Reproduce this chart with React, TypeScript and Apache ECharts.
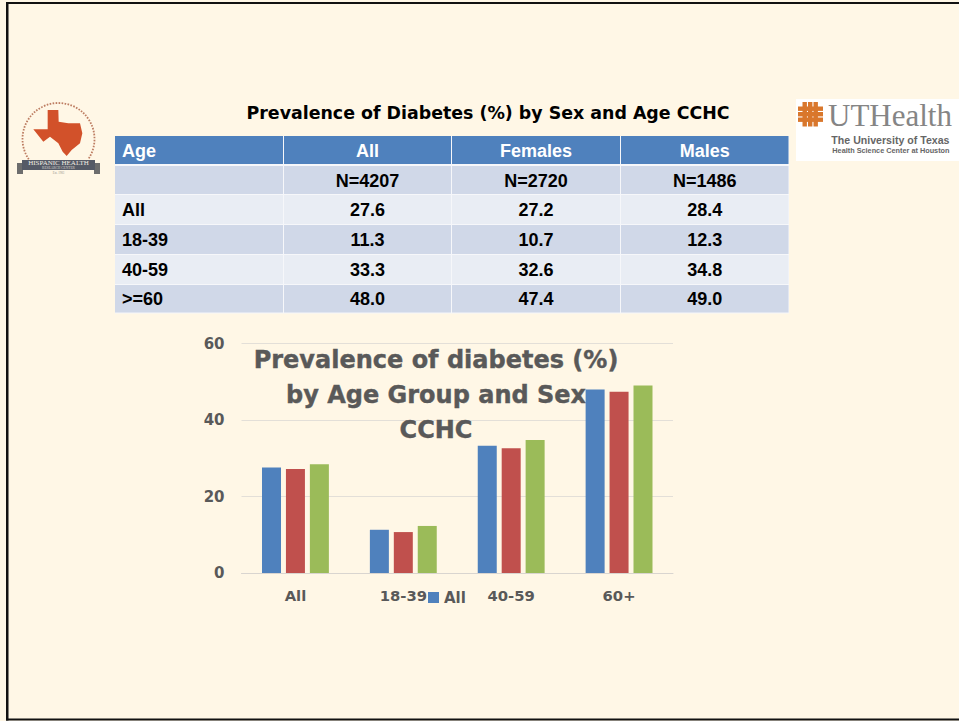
import React, { useEffect, useRef } from "react";
import * as echarts from "echarts";

const categories = ["All", "18-39", "40-59", "60+"];
const allValues = [27.6, 11.3, 33.3, 48.0];
const femaleValues = [27.2, 10.7, 32.6, 47.4];
const maleValues = [28.4, 12.3, 34.8, 49.0];
const tableHeader = ["Age", "All", "Females", "Males"];
const tableRows = [
  ["", "N=4207", "N=2720", "N=1486"],
  ["All", "27.6", "27.2", "28.4"],
  ["18-39", "11.3", "10.7", "12.3"],
  ["40-59", "33.3", "32.6", "34.8"],
  [">=60", "48.0", "47.4", "49.0"],
];
const colX = [115, 284, 452, 621, 789.5];
const rowY = [136, 166, 195, 225, 255, 285, 313.5];
const BG = "#fff7e6";
const SANS = "Liberation Sans";
const WIDE = "DejaVu Sans";

const texas: number[][] = [
  [143, 60], [175, 60], [176, 95], [205, 100], [240, 100], [247, 130], [240, 160], [215, 180],
  [200, 198], [188, 185], [175, 160], [150, 140], [130, 155], [100, 118], [143, 118],
].map(([x, y]) => [x / 3, 90 + y / 3]);

function tableGraphics() {
  const out: any[] = [];
  out.push({ type: "rect", shape: { x: colX[0], y: rowY[0], width: 674, height: 177.5 }, style: { fill: "#f6f7fa" }, silent: true });
  const rows = [tableHeader, ...tableRows];
  rows.forEach((row, r) => {
    row.forEach((cell, c) => {
      const x0 = colX[c];
      const x1 = colX[c + 1] - 1;
      const y0 = rowY[r];
      const y1 = rowY[r + 1] - (r === 0 ? 2 : 1);
      const fill = r === 0 ? "#4f81bd" : r % 2 === 1 ? "#d0d8e8" : "#e9edf4";
      out.push({ type: "rect", shape: { x: x0, y: y0, width: x1 - x0, height: y1 - y0 }, style: { fill }, silent: true });
      if (cell) {
        out.push({
          type: "text",
          x: c === 0 ? x0 + 7 : (x0 + x1) / 2,
          y: (y0 + y1) / 2 + 0.5,
          style: {
            text: cell,
            fill: r === 0 ? "#ffffff" : "#000000",
            font: `bold 18px "${SANS}"`,
            textAlign: c === 0 ? "left" : "center",
            textVerticalAlign: "middle",
          },
          silent: true,
        });
      }
    });
  });
  return out;
}

function logoGraphics() {
  const out: any[] = [];
  const t = (text: string, x: number, y: number, font: string, fill: string, textAlign = "center") => ({
    type: "text", x, y, silent: true, style: { text, font, fill, textAlign, textVerticalAlign: "middle" },
  });
  out.push({
    type: "arc",
    shape: { cx: 58.5, cy: 139, r: 36, startAngle: Math.PI - 0.6, endAngle: Math.PI * 2 + 0.6, clockwise: true },
    style: { stroke: "#bd7d62", lineWidth: 1.8, fill: "none", lineDash: [1.6, 1.4] },
    silent: true,
  });
  out.push({ type: "polygon", shape: { points: texas }, style: { fill: "#d2512a" }, silent: true });
  out.push({ type: "rect", shape: { x: 17, y: 163, width: 6, height: 11 }, style: { fill: "#6d6d6d" }, silent: true });
  out.push({ type: "rect", shape: { x: 94, y: 163, width: 6, height: 11 }, style: { fill: "#6d6d6d" }, silent: true });
  out.push({ type: "rect", shape: { x: 22, y: 160, width: 73, height: 10 }, style: { fill: "#555a66" }, silent: true });
  out.push(t("HISPANIC HEALTH", 58.5, 163, '7px "Liberation Serif"', "#f1ede2"));
  out.push(t("RESEARCH CENTER", 58.5, 168, '3.5px "Liberation Serif"', "#d8d5cc"));
  out.push(t("Est. 1983", 58.5, 172.5, '3px "Liberation Serif"', "#9a958a"));

  out.push({ type: "rect", shape: { x: 796, y: 99, width: 163, height: 62 }, style: { fill: "#ffffff" }, silent: true });
  const latticeFill = "#d9772c";
  [802.5, 808, 813.5].forEach((x) =>
    out.push({ type: "rect", shape: { x, y: 102, width: 4.4, height: 24.5 }, style: { fill: latticeFill }, silent: true }),
  );
  [106.5, 112, 117.5].forEach((y) =>
    out.push({ type: "rect", shape: { x: 798, y, width: 25, height: 4.4 }, style: { fill: latticeFill }, silent: true }),
  );
  out.push(t("UTHealth", 828, 115, '31px "Liberation Serif"', "#858585", "left"));
  out.push(t("The University of Texas", 949.5, 139.5, 'bold 10.6px "Liberation Sans"', "#666666", "right"));
  out.push(t("Health Science Center at Houston", 949.5, 150, 'bold 7.3px "Liberation Sans"', "#666666", "right"));
  return out;
}

function frameGraphics() {
  const black = "#111111";
  return [
    { type: "rect", shape: { x: 6, y: 2, width: 953, height: 2 }, style: { fill: black }, silent: true },
    { type: "rect", shape: { x: 6, y: 2, width: 2.5, height: 718.5 }, style: { fill: black }, silent: true },
    { type: "rect", shape: { x: 6, y: 718.5, width: 953, height: 2 }, style: { fill: black }, silent: true },
  ];
}

export default function App() {
  const ref = useRef<HTMLDivElement>(null);
  useEffect(() => {
    const chart = echarts.init(ref.current!, undefined, { renderer: "svg" });
    const makeBar = (name: string, data: number[], color: string) => ({
      name,
      type: "bar",
      data,
      barWidth: 19,
      barGap: "26%",
      itemStyle: { color },
    });
    chart.setOption({
      animation: false,
      backgroundColor: BG,
      title: [
        {
          text: "Prevalence of Diabetes (%) by Sex and Age CCHC",
          left: 488,
          top: 99,
          padding: 0,
          textAlign: "center",
          textStyle: { color: "#000000", fontFamily: WIDE, fontWeight: "bold", fontSize: 17.4, lineHeight: 28 },
        },
        {
          text: "Prevalence of diabetes (%)\nby Age Group and Sex\nCCHC",
          left: 436,
          top: 342,
          padding: 0,
          textAlign: "center",
          textStyle: {
            color: "#595959",
            fontFamily: WIDE,
            fontWeight: "bold",
            fontSize: 24,
            lineHeight: 35,
            textBorderColor: "#595959",
            textBorderWidth: 0.4,
          },
        },
      ],
      legend: {
        data: ["All"],
        left: 428,
        top: 590,
        icon: "rect",
        itemWidth: 11,
        itemHeight: 11,
        itemGap: 4,
        padding: 0,
        textStyle: { color: "#595959", fontFamily: WIDE, fontWeight: "bold", fontSize: 15, padding: [0, 0, 0, 0] },
      },
      grid: { left: 241.5, right: 959 - 673, top: 343.5, height: 229.5, containLabel: false },
      xAxis: {
        type: "category",
        data: categories,
        axisTick: { show: false },
        axisLine: { lineStyle: { color: "#d9d5d0", width: 1 } },
        axisLabel: { color: "#595959", fontFamily: WIDE, fontWeight: "bold", fontSize: 14.8, margin: 15 },
      },
      yAxis: {
        type: "value",
        min: 0,
        max: 60,
        interval: 20,
        axisLine: { show: false },
        axisTick: { show: false },
        splitLine: { lineStyle: { color: "#e3dfd8", width: 1 } },
        axisLabel: {
          color: "#595959",
          fontFamily: WIDE,
          fontWeight: "bold",
          fontSize: 15,
          margin: 17,
          verticalAlign: "middle",
          padding: [0, 0, 2, 0],
        },
      },
      series: [
        makeBar("All", allValues, "#4f81bd"),
        makeBar("Females", femaleValues, "#c0504d"),
        makeBar("Males", maleValues, "#9bbb59"),
      ],
      graphic: [...frameGraphics(), ...logoGraphics(), ...tableGraphics()],
    });
    return () => chart.dispose();
  }, []);
  return <div ref={ref} style={{ position: "fixed", left: 0, top: 0, width: 959, height: 721 }} />;
}
